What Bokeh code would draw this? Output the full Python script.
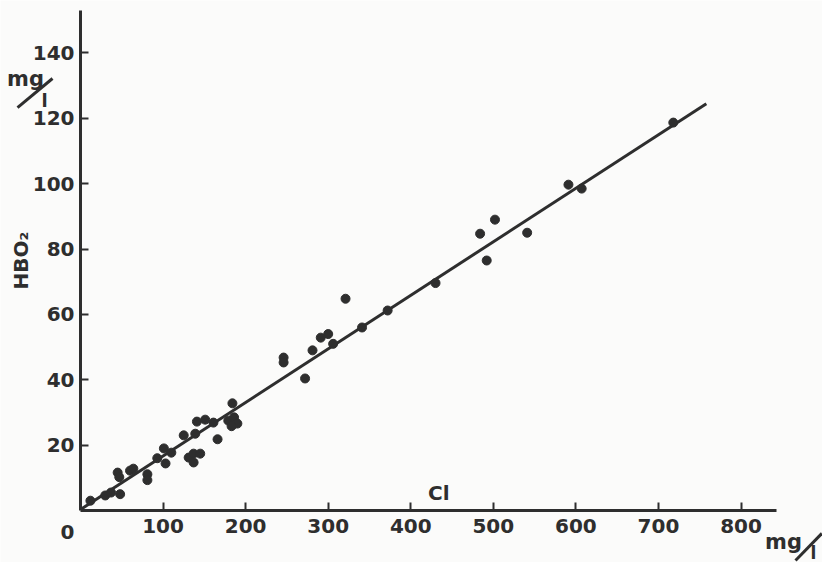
from bokeh.plotting import figure
from bokeh.models import Range1d, FixedTicker, Label, Arrow
from bokeh.embed import file_html
from bokeh.resources import INLINE

# Cl (mg/l) vs HBO2 (mg/l)
cl = [12, 30, 37, 48, 45, 47, 60, 64, 81, 81, 93, 103, 101, 110, 125, 131, 137, 137,
      145, 139, 141, 151, 161, 166, 184, 179, 186, 190, 183, 246, 246, 272, 281, 291,
      300, 306, 321, 341, 372, 430, 484, 502, 492, 541, 591, 607, 718]
hbo2 = [3.0, 4.6, 5.5, 5.0, 11.6, 10.2, 12.2, 12.8, 11.1, 9.3, 16.0, 14.4, 19.0, 17.7,
        23.0, 16.2, 14.7, 17.4, 17.4, 23.5, 27.2, 27.8, 26.9, 21.8, 32.8, 27.5, 28.5,
        26.6, 25.8, 46.8, 45.3, 40.4, 49.0, 52.9, 54.0, 51.0, 64.8, 56.0, 61.2, 69.6,
        84.7, 89.0, 76.5, 85.0, 99.7, 98.5, 118.7]
fit_x = [0, 758]
fit_y = [0.3, 124.5]

x_ticks = [100, 200, 300, 400, 500, 600, 700, 800]
y_ticks = [20, 40, 60, 80, 100, 120, 140]

INK = "#2e2e2e"
FONT = "DejaVu Sans"

p = figure(width=822, height=562, output_backend="svg", toolbar_location=None,
           x_range=Range1d(-96.9, 898.7), y_range=Range1d(-15.91, 156.06),
           min_border=0, min_border_left=0, min_border_right=0,
           min_border_top=0, min_border_bottom=0)
p.background_fill_color = "#fbfbfa"
p.border_fill_color = "#fbfbfa"
p.outline_line_color = None
p.xgrid.visible = False
p.ygrid.visible = False

p.xaxis.fixed_location = 0
p.yaxis.fixed_location = 0
p.xaxis.bounds = (0, 843)
p.yaxis.bounds = (0, 153)

for ax, ticks in ((p.xaxis, x_ticks), (p.yaxis, y_ticks)):
    ax.ticker = FixedTicker(ticks=ticks)
    ax.axis_line_width = 3
    ax.axis_line_color = INK
    ax.major_tick_line_width = 2
    ax.major_tick_line_color = INK
    ax.major_tick_in = 8
    ax.major_tick_out = 0
    ax.minor_tick_line_color = None
    ax.major_label_text_font = FONT
    ax.major_label_text_font_style = "bold"
    ax.major_label_text_font_size = "20px"
    ax.major_label_text_color = INK

p.xaxis.major_label_standoff = 8
p.yaxis.major_label_standoff = 6
p.yaxis.axis_label = "HBO₂"
p.yaxis.axis_label_text_font = FONT
p.yaxis.axis_label_text_font_style = "bold"
p.yaxis.axis_label_text_font_size = "20px"
p.yaxis.axis_label_text_color = INK
p.yaxis.axis_label_standoff = -3

p.line(fit_x, fit_y, line_width=3, line_color=INK)
p.scatter(cl, hbo2, size=9, fill_color=INK, line_color=INK)

def lab(x, y, t, size="20px", **kw):
    p.add_layout(Label(x=x, y=y, text=t, text_font=FONT, text_font_style="bold",
                       text_font_size=size, text_color=INK, text_align="center",
                       text_baseline="middle", **kw))

lab(434, 5.5, "Cl")
lab(-15.7, -6.7, "0")
lab(-66.6, 131.9, "mg", size="21px")
lab(-43.6, 125.5, "l", size="18px")
lab(851.5, -9.5, "mg", size="21px")
lab(887.8, -12.9, "l", size="17px")
p.add_layout(Arrow(end=None, x_start=-76.3, y_start=123.3, x_end=-33.9, y_end=132.2,
                   line_width=3, line_color=INK))
p.add_layout(Arrow(end=None, x_start=866, y_start=-15.3, x_end=898, y_end=-7.0,
                   line_width=3, line_color=INK))

open("out.html", "w").write(file_html(p, INLINE))
